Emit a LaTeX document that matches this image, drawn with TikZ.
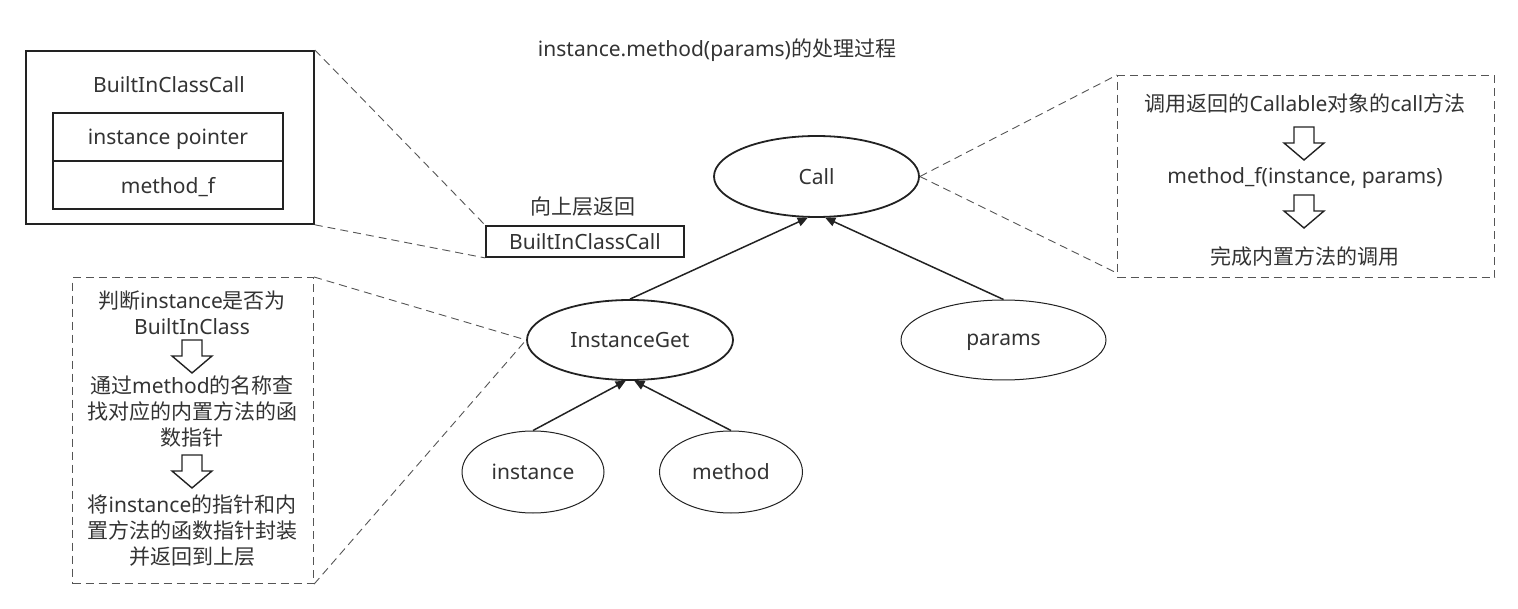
\documentclass[tikz,border=0pt]{standalone}
\usepackage{fontspec}
\setmainfont{Noto Sans}
\newfontfamily\zhf{Noto Sans CJK SC}
\newcommand{\zh}[1]{{\zhf #1}}
\usetikzlibrary{shapes.geometric,arrows.meta,calc}
\definecolor{txt}{HTML}{333333}
\definecolor{ln}{HTML}{222222}
\definecolor{dsh}{HTML}{555555}
\begin{document}
\begin{tikzpicture}[x=1pt,y=-1pt,
  every node/.style={font=\fontsize{21}{26}\selectfont, text=txt, inner sep=0pt},
  nodesc/.style={text depth=0pt},
  boxthick/.style={draw=ln, line width=1.8pt},
  cell/.style={draw=ln, line width=1.4pt, minimum width=230pt, minimum height=48pt},
  ell/.style={ellipse, draw=ln},
  dbox/.style={draw=dsh, line width=1.1pt, dash pattern=on 8pt off 5pt},
  dline/.style={draw=dsh, line width=0.9pt, dash pattern=on 8pt off 5pt},
  arr/.style={draw=ln, line width=1.5pt, -{Triangle[length=10pt,width=9pt]}},
  downarrow/.pic={\draw[draw=ln, line width=1.4pt, line join=miter]
     (-10,0) -- (10,0) -- (10,16) -- (20,16) -- (0,33) -- (-20,16) -- (-10,16) -- cycle;}
]
\useasboundingbox (0,0) rectangle (1518,609);

% title
\node (title) at (717,50) {instance.method(params)\zh{的处理过程}};

% BuiltInClassCall structure box
\node[boxthick, minimum width=288pt, minimum height=173pt, anchor=north west] (outer) at (25,50) {};
\node (outerlbl) at (169,85) {BuiltInClassCall};
\node[cell, nodesc] (row1) at (168,137) {instance pointer};
\node[cell, nodesc] (row2) at (168,185) {method\_f};

% returned object
\node (retlbl) at (583,207) {\zh{向上层返回}};
\node[boxthick, minimum width=198pt, minimum height=31pt] (ret) at (585,241.5) {BuiltInClassCall};

% tree nodes
\node[ell, line width=1.8pt, minimum width=205pt, minimum height=81pt] (call) at (816.5,176.5) {Call};
\node[ell, line width=1.8pt, minimum width=206pt, minimum height=80pt] (ig) at (630,340) {InstanceGet};
\node[ell, nodesc, line width=1pt, minimum width=205pt, minimum height=80pt] (params) at (1003.5,340) {params};
\node[ell, line width=1pt, minimum width=142pt, minimum height=82pt] (inst) at (533,472) {instance};
\node[ell, line width=1pt, minimum width=143pt, minimum height=82pt] (meth) at (731,472) {method};

% tree edges
\draw[arr] (ig.north) -- (call.-102);
\draw[arr] (params.north) -- (call.-78);
\draw[arr] (inst.north) -- (ig.-96);
\draw[arr] (meth.north) -- (ig.-84);

% right explanation box
\node[dbox, minimum width=377pt, minimum height=202pt, anchor=north west] (rbox) at (1117,75) {};
\node (r1) at (1305,104) {\zh{调用返回的}Callable\zh{对象的}call\zh{方法}};
\pic at (1304,127) {downarrow};
\node (r2) at (1305,178) {method\_f(instance, params)};
\pic at (1304,195) {downarrow};
\node (r3) at (1305,257) {\zh{完成内置方法的调用}};

% left explanation box
\node[dbox, minimum width=241pt, minimum height=306pt, anchor=north west] (lbox) at (72,277) {};
\node[align=center] (l1) at (192,313) {\zh{判断}instance\zh{是否为}\\BuiltInClass};
\pic at (192,340) {downarrow};
\node[align=center] (l2) at (192,412) {\zh{通过}method\zh{的名称查}\\\zh{找对应的内置方法的函}\\\zh{数指针}};
\pic at (192,455) {downarrow};
\node[align=center] (l3) at (192,531) {\zh{将}instance\zh{的指针和内}\\\zh{置方法的函数指针封装}\\\zh{并返回到上层}};

% dashed callouts
\draw[dline] (outer.north east) -- (ret.north west);
\draw[dline] (outer.south east) -- (ret.south west);
\draw[dline] (call.east) -- (rbox.north west);
\draw[dline] (call.east) -- ($(rbox.south west)+(0,-5)$);
\draw[dline] (lbox.north east) -- (ig.west);
\draw[dline] (lbox.south east) -- (ig.west);
\end{tikzpicture}
\end{document}
